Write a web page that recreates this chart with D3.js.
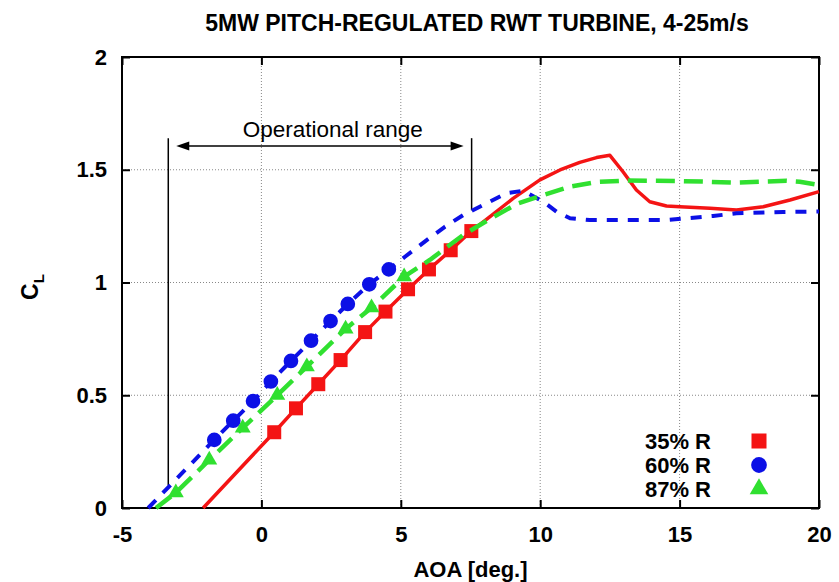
<!DOCTYPE html>
<html>
<head>
<meta charset="utf-8">
<script src="https://cdn.jsdelivr.net/npm/d3@7"></script>
<style>
  body { margin: 0; background: #fff; }
  svg { display: block; }
  text { font-family: "Liberation Sans", Arial, Helvetica, sans-serif; fill: #000; }
</style>
</head>
<body>
<svg id="chart" width="839" height="582"></svg>
<script>
// ---- axes ----
const xTicks = [-5, 0, 5, 10, 15, 20];
const yTicks = [0, 0.5, 1, 1.5, 2];
const xDomain = [-5, 20];
const yDomain = [0, 2];

// ---- series names ----
const seriesNames = ["35% R", "60% R", "87% R"];

// ---- 35% R : lift curve (solid) and sampled points (squares) ----
const aoa35Line = [-2.09, 0.46, 1.24, 2.04, 2.84, 3.72, 4.45, 5.26, 6.01, 6.79, 7.53, 8.20, 9.03, 9.99, 10.71, 11.42, 12.02, 12.50, 12.97, 13.45, 13.93, 14.53, 15.01, 16.09, 17.04, 18.00, 18.96, 20.0];
const cl35Line  = [0, 0.336, 0.442, 0.549, 0.656, 0.780, 0.871, 0.970, 1.058, 1.143, 1.228, 1.292, 1.373, 1.455, 1.499, 1.533, 1.554, 1.564, 1.491, 1.410, 1.358, 1.339, 1.336, 1.329, 1.322, 1.336, 1.366, 1.403];
const aoa35Pts  = [0.46, 1.24, 2.04, 2.84, 3.72, 4.45, 5.26, 6.01, 6.79, 7.53];
const cl35Pts   = [0.336, 0.442, 0.549, 0.656, 0.780, 0.871, 0.970, 1.058, 1.143, 1.228];

// ---- 60% R ----
const aoa60Line = [-4.06, -1.69, -1.01, -0.30, 0.34, 1.06, 1.78, 2.48, 3.10, 3.87, 4.57, 5.15, 5.93, 6.58, 7.24, 8.08, 8.79, 9.39, 10.11, 10.59, 11.07, 11.78, 12.86, 14.53, 15.25, 16.20, 17.04, 18.72, 20.0];
const cl60Line  = [0, 0.302, 0.387, 0.474, 0.561, 0.652, 0.742, 0.829, 0.905, 0.992, 1.058, 1.114, 1.188, 1.247, 1.299, 1.351, 1.396, 1.407, 1.358, 1.314, 1.285, 1.277, 1.277, 1.277, 1.285, 1.295, 1.307, 1.313, 1.315];
const aoa60Pts  = [-1.69, -1.01, -0.30, 0.34, 1.06, 1.78, 2.48, 3.10, 3.87, 4.57];
const cl60Pts   = [0.302, 0.387, 0.474, 0.561, 0.652, 0.742, 0.829, 0.905, 0.992, 1.058];

// ---- 87% R ----
const aoa87Line = [-3.78, -3.07, -1.87, -0.67, 0.57, 1.63, 3.02, 3.95, 5.12, 6.04, 7.24, 8.20, 9.15, 10.11, 11.07, 12.02, 13.10, 13.93, 15.01, 15.97, 16.92, 17.88, 18.84, 19.31, 20.0];
const cl87Line  = [0, 0.068, 0.213, 0.355, 0.500, 0.627, 0.794, 0.888, 1.026, 1.100, 1.211, 1.282, 1.348, 1.388, 1.425, 1.446, 1.452, 1.451, 1.450, 1.447, 1.443, 1.447, 1.451, 1.447, 1.432];
const aoa87Pts  = [-3.07, -1.87, -0.67, 0.57, 1.63, 3.02, 3.95, 5.12];
const cl87Pts   = [0.068, 0.213, 0.355, 0.500, 0.627, 0.794, 0.888, 1.026];

// ---- operational range annotation (AOA limits, CL extents) ----
const opRangeAoa = [-3.34, 7.54];
const opRangeClBottom = [0.10, 1.32];
const opRangeClTop = 1.64;
const opArrowCl = 1.605;
const opLabel = "Operational range";
const opLabelPos = [-0.67, 1.647];

// ---- styling ----
const colors = ["#f41414", "#0c10e6", "#30e030"];

const svg = d3.select("#chart");
const margin = { left: 122, right: 20, top: 57, bottom: 74 };
const W = 839, H = 582;

const x = d3.scaleLinear().domain(xDomain).range([margin.left, W - margin.right]);
const y = d3.scaleLinear().domain(yDomain).range([H - margin.bottom, margin.top]);

// Title
svg.append("text")
  .attr("x", 477).attr("y", 31)
  .attr("text-anchor", "middle")
  .style("font-weight", "bold").style("font-size", "23px")
  .text("5MW PITCH-REGULATED RWT TURBINE, 4-25m/s");

// Grid (dotted)
const grid = svg.append("g");
grid.selectAll("line.gx").data(xTicks.slice(1, -1)).join("line")
  .attr("x1", d => x(d)).attr("x2", d => x(d))
  .attr("y1", y(0)).attr("y2", y(2))
  .attr("stroke", "#888").attr("stroke-width", 1).attr("stroke-dasharray", "1,2");
grid.selectAll("line.gy").data(yTicks.slice(1, -1)).join("line")
  .attr("y1", d => y(d)).attr("y2", d => y(d))
  .attr("x1", x(-5)).attr("x2", x(20))
  .attr("stroke", "#888").attr("stroke-width", 1).attr("stroke-dasharray", "1,2");

// Axes with inward ticks on all four sides
const fmt = d => String(d);
const axB = svg.append("g").attr("transform", `translate(0,${y(0)})`)
  .call(d3.axisBottom(x).tickValues(xTicks).tickSize(-8).tickPadding(18).tickFormat(fmt));
const axL = svg.append("g").attr("transform", `translate(${x(-5)},0)`)
  .call(d3.axisLeft(y).tickValues(yTicks).tickSize(-8).tickPadding(15).tickFormat(fmt));
const axT = svg.append("g").attr("transform", `translate(0,${y(2)})`)
  .call(d3.axisTop(x).tickValues(xTicks).tickSize(-8).tickFormat(""));
const axR = svg.append("g").attr("transform", `translate(${x(20)},0)`)
  .call(d3.axisRight(y).tickValues(yTicks).tickSize(-8).tickFormat(""));
[axB, axL, axT, axR].forEach(g => {
  g.select(".domain").remove();
  g.selectAll(".tick line").attr("stroke", "#000").attr("stroke-width", 2);
  g.selectAll(".tick text")
    .style("font-family", "'Liberation Sans', Arial, sans-serif")
    .style("font-size", "22px").style("font-weight", "bold").attr("fill", "#000");
});

// Frame
svg.append("rect")
  .attr("x", x(-5)).attr("y", y(2))
  .attr("width", x(20) - x(-5)).attr("height", y(0) - y(2))
  .attr("fill", "none").attr("stroke", "#000").attr("stroke-width", 2);

// Axis titles
svg.append("text")
  .attr("x", x(7.5)).attr("y", 577)
  .attr("text-anchor", "middle")
  .style("font-weight", "bold").style("font-size", "22px")
  .text("AOA [deg.]");
const yl = svg.append("text")
  .attr("transform", `translate(38,${y(0.98)}) rotate(-90)`)
  .attr("text-anchor", "middle")
  .style("font-weight", "bold").style("font-size", "23px");
yl.append("tspan").text("C");
yl.append("tspan").attr("dy", 6).style("font-size", "15px").text("L");

// Operational range annotation
const ann = svg.append("g");
opRangeAoa.forEach((a, i) => {
  ann.append("line")
    .attr("x1", x(a)).attr("x2", x(a))
    .attr("y1", y(opRangeClBottom[i])).attr("y2", y(opRangeClTop))
    .attr("stroke", "#000").attr("stroke-width", 1.5);
});
const ax0 = x(opRangeAoa[0]) + 8, ax1 = x(opRangeAoa[1]) - 8, ay = y(opArrowCl);
ann.append("line").attr("x1", ax0 + 10).attr("x2", ax1 - 10).attr("y1", ay).attr("y2", ay)
  .attr("stroke", "#000").attr("stroke-width", 1.5);
ann.append("path").attr("d", `M${ax0},${ay} L${ax0 + 13},${ay - 4.5} L${ax0 + 13},${ay + 4.5} Z`).attr("fill", "#000");
ann.append("path").attr("d", `M${ax1},${ay} L${ax1 - 13},${ay - 4.5} L${ax1 - 13},${ay + 4.5} Z`).attr("fill", "#000");
ann.append("text")
  .attr("x", x(opLabelPos[0])).attr("y", y(opLabelPos[1]))
  .style("font-size", "22.5px")
  .text(opLabel);

// Curves and points
const line = d3.line().x(d => x(d[0])).y(d => y(d[1]));
const zip = (a, b) => a.map((v, i) => [v, b[i]]);

const plot = svg.append("g");
const lineSpecs = [
  { data: zip(aoa35Line, cl35Line), dash: null, w: 3.5 },
  { data: zip(aoa60Line, cl60Line), dash: "11,10", w: 4 },
  { data: zip(aoa87Line, cl87Line), dash: "19,9", w: 4.5 }
];
const ptSpecs = [
  { data: zip(aoa35Pts, cl35Pts), type: d3.symbolSquare, size: 196 },
  { data: zip(aoa60Pts, cl60Pts), type: d3.symbolCircle, size: 170 },
  { data: zip(aoa87Pts, cl87Pts), type: d3.symbolTriangle, size: 110 }
];
lineSpecs.forEach((s, i) => {
  plot.append("path").datum(s.data)
    .attr("d", line)
    .attr("fill", "none")
    .attr("stroke", colors[i])
    .attr("stroke-width", s.w)
    .attr("stroke-dasharray", s.dash)
    .attr("stroke-linejoin", "round");
  plot.selectAll(null).data(ptSpecs[i].data).join("path")
    .attr("transform", d => `translate(${x(d[0])},${y(d[1])})`)
    .attr("d", d3.symbol().type(ptSpecs[i].type).size(ptSpecs[i].size))
    .attr("fill", colors[i]);
});

// Legend
const leg = svg.append("g");
seriesNames.forEach((name, i) => {
  const by = 449 + i * 24;
  leg.append("text")
    .attr("x", 711).attr("y", by)
    .attr("text-anchor", "end")
    .style("font-weight", "bold").style("font-size", "22px")
    .text(name);
  leg.append("path")
    .attr("transform", `translate(759,${by - 8})`)
    .attr("d", d3.symbol().type(ptSpecs[i].type).size(i === 2 ? 150 : ptSpecs[i].size * 1.15))
    .attr("fill", colors[i]);
});
</script>
</body>
</html>
